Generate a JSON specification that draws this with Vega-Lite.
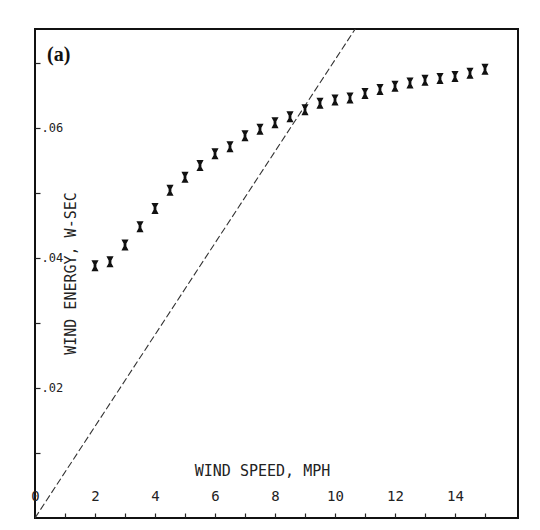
{
  "$schema": "https://vega.github.io/schema/vega-lite/v6.json",
  "width": 483,
  "height": 489,
  "autosize": {"type": "none"},
  "padding": {"left": 35, "top": 29, "right": 22, "bottom": 12},
  "background": "white",
  "config": {
    "view": {"stroke": "#111", "strokeWidth": 2},
    "axis": {"grid": false, "domain": false}
  },
  "title": {
    "text": "(a)",
    "anchor": "start",
    "frame": "group",
    "offset": 0,
    "dx": 12,
    "dy": 52,
    "baseline": "alphabetic",
    "font": "Liberation Serif",
    "fontSize": 20,
    "fontWeight": "bold",
    "color": "#111"
  },
  "datasets": {
    "energy": [
      {"speed": 2.0, "energy": 0.0388},
      {"speed": 2.5, "energy": 0.0394},
      {"speed": 3.0, "energy": 0.0420},
      {"speed": 3.5, "energy": 0.0448},
      {"speed": 4.0, "energy": 0.0476},
      {"speed": 4.5, "energy": 0.0504},
      {"speed": 5.0, "energy": 0.0524},
      {"speed": 5.5, "energy": 0.0542},
      {"speed": 6.0, "energy": 0.0560},
      {"speed": 6.5, "energy": 0.0571},
      {"speed": 7.0, "energy": 0.0588},
      {"speed": 7.5, "energy": 0.0598},
      {"speed": 8.0, "energy": 0.0608},
      {"speed": 8.5, "energy": 0.0617},
      {"speed": 9.0, "energy": 0.0628},
      {"speed": 9.5, "energy": 0.0638},
      {"speed": 10.0, "energy": 0.0643},
      {"speed": 10.5, "energy": 0.0646},
      {"speed": 11.0, "energy": 0.0653},
      {"speed": 11.5, "energy": 0.0659},
      {"speed": 12.0, "energy": 0.0664},
      {"speed": 12.5, "energy": 0.0669},
      {"speed": 13.0, "energy": 0.0673},
      {"speed": 13.5, "energy": 0.0676},
      {"speed": 14.0, "energy": 0.0679},
      {"speed": 14.5, "energy": 0.0684},
      {"speed": 15.0, "energy": 0.0690}
    ],
    "line": [
      {"speed": 0, "energy": 0},
      {"speed": 11, "energy": 0.0775}
    ]
  },
  "encoding": {
    "x": {
      "field": "speed",
      "type": "quantitative",
      "scale": {"domain": [0, 16.1], "nice": false, "zero": false},
      "axis": {
        "values": [0, 1, 2, 3, 4, 5, 6, 7, 8, 9, 10, 11, 12, 13, 14, 15],
        "tickSize": -5,
        "tickColor": "#222",
        "tickWidth": 1.2,
        "labelPadding": -10,
        "labelBaseline": "bottom",
        "labelOverlap": false,
        "labelFlush": false,
        "labelExpr": "datum.value % 2 == 0 ? datum.label : ''",
        "labelFont": "DejaVu Sans Mono",
        "labelFontSize": 14,
        "labelColor": "#222",
        "title": "WIND SPEED, MPH",
        "titleX": 227,
        "titleY": -48,
        "titleFont": "DejaVu Sans Mono",
        "titleFontSize": 15,
        "titleFontWeight": "normal",
        "titleBaseline": "middle",
        "titleAlign": "center",
        "titleColor": "#222"
      }
    },
    "y": {
      "field": "energy",
      "type": "quantitative",
      "scale": {"domain": [0, 0.0752], "nice": false, "zero": false},
      "axis": {
        "values": [0.01, 0.02, 0.03, 0.04, 0.05, 0.06, 0.07],
        "tickSize": -5,
        "tickColor": "#222",
        "tickWidth": 1.2,
        "labelAlign": "left",
        "labelBaseline": "middle",
        "labelPadding": -1,
        "labelOverlap": false,
        "labelExpr": "(round(datum.value*100) % 2 == 0) ? replace(format(datum.value, '.2f'), '0.', '.') : ''",
        "labelFont": "DejaVu Sans Mono",
        "labelFontSize": 12,
        "labelColor": "#222",
        "title": "WIND ENERGY, W-SEC",
        "titleX": 35,
        "titleY": 244,
        "titleAngle": -90,
        "titleFont": "DejaVu Sans Mono",
        "titleFontSize": 15,
        "titleFontWeight": "normal",
        "titleBaseline": "middle",
        "titleAlign": "center",
        "titleColor": "#222"
      }
    }
  },
  "layer": [
    {
      "data": {"name": "line"},
      "mark": {"type": "line", "clip": true, "strokeDash": [7, 3], "strokeWidth": 1.1, "color": "#333"}
    },
    {
      "data": {"name": "energy"},
      "mark": {
        "type": "point",
        "shape": "M-0.65,-1H0.65L0.25,-0.25V0.25L0.65,1H-0.65L-0.25,0.25V-0.25Z",
        "filled": true,
        "size": 121,
        "color": "#111",
        "opacity": 1
      }
    }
  ]
}
